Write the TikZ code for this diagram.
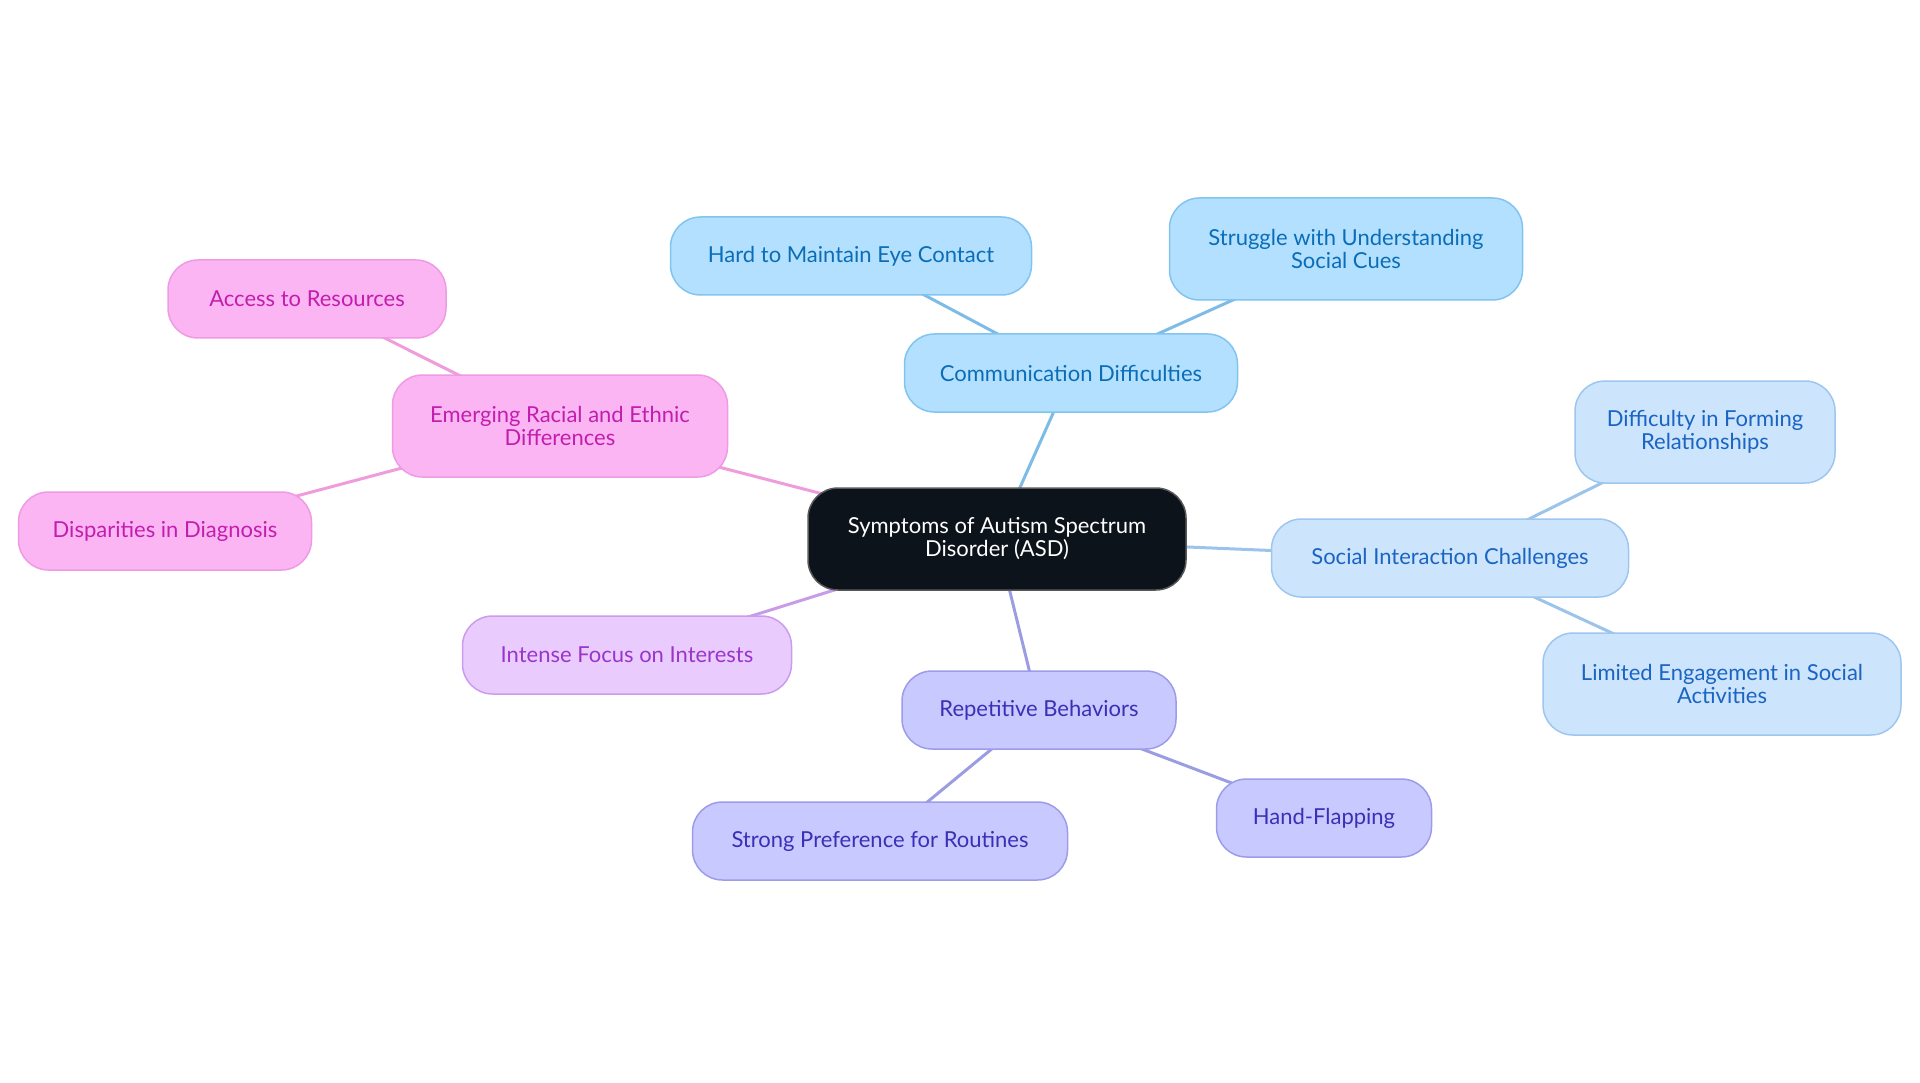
\documentclass[tikz,border=0pt]{standalone}
\usepackage{fontspec}
\setmainfont{Lato}
\usetikzlibrary{backgrounds}
\definecolor{rootfill}{HTML}{0C131B}
\definecolor{commfill}{HTML}{B3E0FE}
\definecolor{commdraw}{HTML}{82C4F0}
\definecolor{commtext}{HTML}{0B6DB8}
\definecolor{commline}{HTML}{7DBCE6}
\definecolor{socfill}{HTML}{CDE4FD}
\definecolor{socdraw}{HTML}{9EC6EE}
\definecolor{soctext}{HTML}{1A64C2}
\definecolor{socline}{HTML}{9CC4EA}
\definecolor{repfill}{HTML}{C8C9FE}
\definecolor{repdraw}{HTML}{9C9CEA}
\definecolor{reptext}{HTML}{3A30B6}
\definecolor{repline}{HTML}{9C9CE2}
\definecolor{focfill}{HTML}{E9CBFE}
\definecolor{focdraw}{HTML}{CC9CEC}
\definecolor{foctext}{HTML}{9A35CC}
\definecolor{focline}{HTML}{C99CE8}
\definecolor{pinkfill}{HTML}{FCB5F3}
\definecolor{pinkdraw}{HTML}{EE9AE4}
\definecolor{pinktext}{HTML}{C21EAE}
\definecolor{pinkline}{HTML}{EE9CDC}
\begin{document}
\begin{tikzpicture}[x=1pt, y=-1pt,
  main/.style = {draw, rounded corners=30pt, line width=1.5pt, minimum height=78pt,
    inner xsep=20pt, align=center, font=\fontsize{22}{23}\selectfont},
  tall/.style = {minimum height=102pt},
  root/.style = {main, fill=rootfill, draw=gray!70!black, text=white, minimum height=102pt},
  comm/.style = {main, fill=commfill, draw=commdraw, text=commtext},
  soc/.style = {main, fill=socfill, draw=socdraw, text=soctext},
  rep/.style = {main, fill=repfill, draw=repdraw, text=reptext},
  foc/.style = {main, fill=focfill, draw=focdraw, text=foctext},
  pink/.style = {main, fill=pinkfill, draw=pinkdraw, text=pinktext},
  link/.style = {line width=3pt}]
		\useasboundingbox (0,0) rectangle (1920,1083);
		\node[root, minimum width=378pt] (1) at (997,539) {Symptoms of Autism Spectrum\\Disorder (ASD)};
		\node[comm, minimum width=333pt] (2) at (1071,373) {Communication Difficulties};
		\node[comm, minimum width=361pt] (3) at (851,256) {Hard to Maintain Eye Contact};
		\node[comm, tall, minimum width=353pt] (4) at (1346,249) {Struggle with Understanding\\Social Cues};
		\node[soc, minimum width=357pt] (5) at (1450,558) {Social Interaction Challenges};
		\node[soc, tall, minimum width=260pt] (6) at (1705,432) {Difficulty in Forming\\Relationships};
		\node[soc, tall, minimum width=358pt] (7) at (1722,684) {Limited Engagement in Social\\Activities};
		\node[rep, minimum width=274pt] (8) at (1039,710) {Repetitive Behaviors};
		\node[rep, minimum width=215pt] (9) at (1324,818) {Hand-Flapping};
		\node[rep, minimum width=375pt] (10) at (880,841) {Strong Preference for Routines};
		\node[foc, minimum width=329pt] (11) at (627,655) {Intense Focus on Interests};
		\node[pink, tall, minimum width=335pt] (12) at (560,426) {Emerging Racial and Ethnic\\Differences};
		\node[pink, minimum width=278pt] (13) at (307,299) {Access to Resources};
		\node[pink, minimum width=293pt] (14) at (165,531) {Disparities in Diagnosis};
		\begin{scope}[on background layer]
		\draw[link, commline] (1.center) -- (2.center);
		\draw[link, commline] (2.center) -- (3.center);
		\draw[link, commline] (2.center) -- (4.center);
		\draw[link, socline] (1.center) -- (5.center);
		\draw[link, socline] (5.center) -- (6.center);
		\draw[link, socline] (5.center) -- (7.center);
		\draw[link, repline] (1.center) -- (8.center);
		\draw[link, repline] (8.center) -- (9.center);
		\draw[link, repline] (8.center) -- (10.center);
		\draw[link, focline] (1.center) -- (11.center);
		\draw[link, pinkline] (1.center) -- (12.center);
		\draw[link, pinkline] (12.center) -- (13.center);
		\draw[link, pinkline] (12.center) -- (14.center);
		\end{scope}
	\end{tikzpicture}
\end{document}
